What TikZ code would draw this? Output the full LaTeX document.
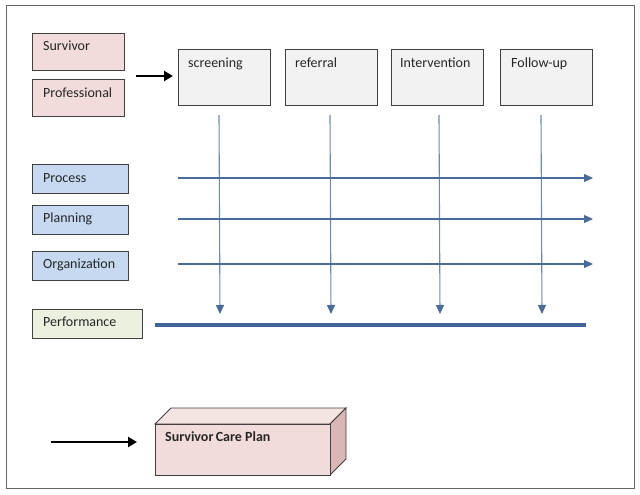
\documentclass[tikz,border=0pt]{standalone}
\usepackage{fontspec}
\setmainfont{Carlito}
\usetikzlibrary{arrows.meta}
\definecolor{pinkf}{HTML}{F2DCDB}
\definecolor{pinkt}{HTML}{F6E4E3}
\definecolor{pinkr}{HTML}{D8B7B6}
\definecolor{bluef}{HTML}{C6D9F1}
\definecolor{greenf}{HTML}{EBF1DE}
\definecolor{grayf}{HTML}{F2F2F2}
\definecolor{bord}{HTML}{404040}
\definecolor{hline}{HTML}{4A6C9B}
\definecolor{vline}{HTML}{7089AD}
\definecolor{thick}{HTML}{3F6496}
\tikzset{
  box/.style={draw=bord, line width=0.9pt, inner sep=0pt, anchor=north west},
  lbl/.style={anchor=base west, inner sep=0pt, text=black!85, font=\fontsize{14}{17}\selectfont},
  harrow/.style={draw=hline, line width=1.1pt, -{Triangle[length=9pt,width=8pt]}},
  varrow/.style={draw=vline, line width=1.1pt, -{Triangle[length=9pt,width=8pt,color=hline]}},
  barrow/.style={draw=black, line width=2.6pt, -{Triangle[length=9pt,width=10pt]}},
}
\begin{document}
\begin{tikzpicture}[x=1pt,y=-1pt]
\useasboundingbox (0,0) rectangle (640,495);
\fill[white] (0,0) rectangle (640,495);
\draw[draw=gray!80!black, line width=1pt] (6,6) rectangle (634,488);

% left boxes
\node[box, fill=pinkf, minimum width=92pt, minimum height=37pt] (surv) at (32,33) {};
\node[lbl] (survT) at (43,51) {Survivor};
\node[box, fill=pinkf, minimum width=92pt, minimum height=37pt] (prof) at (32,79) {};
\node[lbl] (profT) at (43,97) {Professional};

\node[box, fill=bluef, minimum width=96pt, minimum height=29pt] (proc) at (32,164) {};
\node[lbl] (procT) at (43,182) {Process};
\node[box, fill=bluef, minimum width=96pt, minimum height=29pt] (plan) at (32,205) {};
\node[lbl] (planT) at (43,222) {Planning};
\node[box, fill=bluef, minimum width=96pt, minimum height=29pt] (org) at (32,251) {};
\node[lbl] (orgT) at (43,268) {Organization};
\node[box, fill=greenf, minimum width=110pt, minimum height=29pt] (perf) at (32,309) {};
\node[lbl] (perfT) at (43,326) {Performance};

% top boxes
\node[box, fill=grayf, minimum width=92pt, minimum height=56pt] (scr) at (178,49) {};
\node[lbl] (scrT) at (188,67) {screening};
\node[box, fill=grayf, minimum width=92pt, minimum height=56pt] (ref) at (285,49) {};
\node[lbl] (refT) at (295,67) {referral};
\node[box, fill=grayf, minimum width=92pt, minimum height=56pt] (int) at (391,49) {};
\node[lbl] (intT) at (400,67) {Intervention};
\node[box, fill=grayf, minimum width=92pt, minimum height=56pt] (fol) at (500,49) {};
\node[lbl] (folT) at (511,67) {Follow-up};

% black arrow top
\coordinate (a1s) at (136,76);
\coordinate (a1e) at (173,76);
\draw[barrow] (a1s) -- (a1e);

% vertical arrows
\foreach \x/\n in {219/v1,330/v2,439/v3,541/v4}{
  \coordinate (\n s) at (\x,115);
  \coordinate (\n e) at (\x+1,314);
  \draw[varrow] (\n s) -- (\n e);
}

% horizontal arrows
\foreach \y/\n in {178/h1,219/h2,264/h3}{
  \coordinate (\n s) at (178,\y);
  \coordinate (\n e) at (593,\y);
  \draw[harrow] (\n s) -- (\n e);
}

% thick line
\coordinate (t1) at (155,325);
\coordinate (t2) at (586,325);
\draw[draw=thick, line width=4pt] (t1) -- (t2);

% 3D box
\fill[pinkt, draw=bord, line width=0.9pt] (155,424) -- (171,408) -- (346,408) -- (330,424) -- cycle;
\fill[pinkr, draw=bord, line width=0.9pt] (330,424) -- (346,408) -- (346,459) -- (330,475) -- cycle;
\node[box, fill=pinkf, minimum width=175pt, minimum height=51pt] (scp) at (155,424) {};
\node[lbl, font=\fontsize{14}{17}\selectfont\bfseries] (scpT) at (165,441) {Survivor\,Care Plan};

% black arrow bottom
\coordinate (a2s) at (51,442);
\coordinate (a2e) at (137,442);
\draw[barrow] (a2s) -- (a2e);
\end{tikzpicture}
\end{document}
